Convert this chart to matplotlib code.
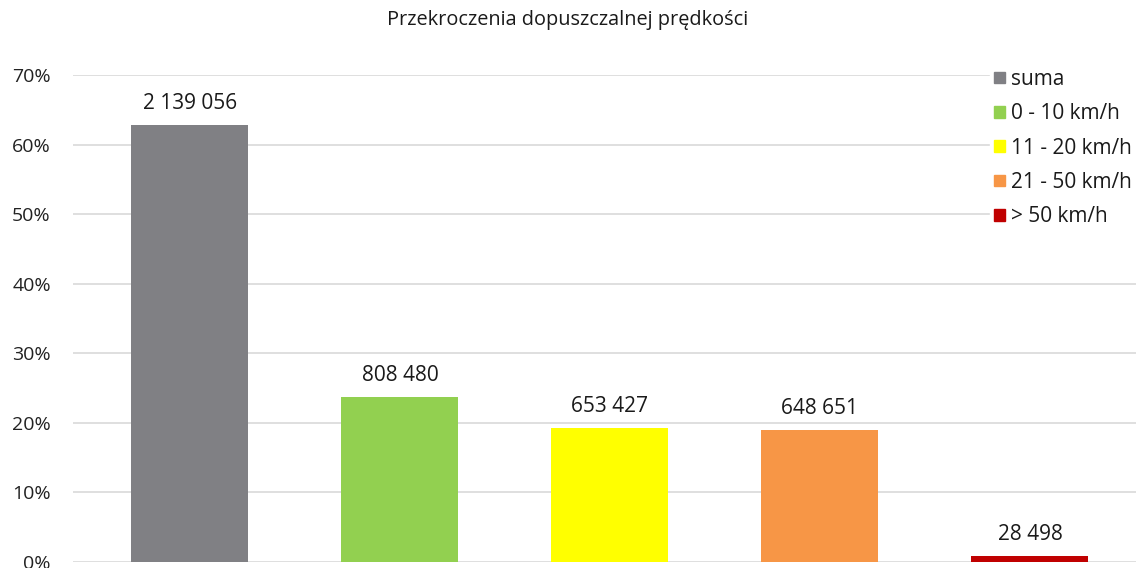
import matplotlib
matplotlib.use("Agg")
import matplotlib.pyplot as plt
from matplotlib.ticker import PercentFormatter

# data
categories = ["suma", "0 - 10 km/h", "11 - 20 km/h", "21 - 50 km/h", "> 50 km/h"]
share_pct = [62.8, 23.7, 19.2, 19.0, 0.84]
counts = ["2 139 056", "808 480", "653 427", "648 651", "28 498"]
colors = ["#808084", "#92D050", "#FFFF00", "#F79646", "#C00000"]

plt.rcParams['font.family'] = ['Open Sans', 'DejaVu Sans']

fig = plt.figure(figsize=(11.36, 5.68), dpi=100)
ax = fig.add_axes([73 / 1136, 6 / 568, 1 - 73 / 1136, 487 / 568])

x = list(range(len(categories)))
bars = ax.bar(x, share_pct, width=0.557, color=colors, label=categories, zorder=2)

for b, txt in zip(bars, counts):
    ax.annotate(txt, (b.get_x() + b.get_width() / 2, b.get_height()),
                xytext=(0, 8), textcoords="offset points",
                ha="center", va="bottom", fontsize=15, color="#1a1a1a")

ax.set_xlim(-0.557, 4.505)
ax.set_ylim(0, 70)
ax.set_yticks(range(0, 71, 10))
ax.yaxis.set_major_formatter(PercentFormatter(decimals=0))
ax.grid(axis="y", color="#D9D9D9", linewidth=1.2, zorder=0)
ax.set_xticks([])
ax.tick_params(axis="y", length=0, pad=16, labelsize=14, labelcolor="#222222")
for s in ax.spines.values():
    s.set_visible(False)

handles = [plt.Rectangle((0, 0), 1, 1, color=c) for c in colors]
leg = ax.legend(handles, categories, loc="upper left", bbox_to_anchor=(917 / 1063, 1.021),
                frameon=True, framealpha=1, edgecolor="white", fontsize=15,
                handlelength=0.5, handleheight=0.5, handletextpad=0.3,
                labelspacing=0.64, borderaxespad=0, borderpad=0.2)
for t in leg.get_texts():
    t.set_color("#1a1a1a")

fig.text(0.5, 1 - 20 / 568, "Przekroczenia dopuszczalnej prędkości",
         ha="center", va="center", fontsize=14.3, color="#1a1a1a")

fig.savefig("out.png", dpi=100)
